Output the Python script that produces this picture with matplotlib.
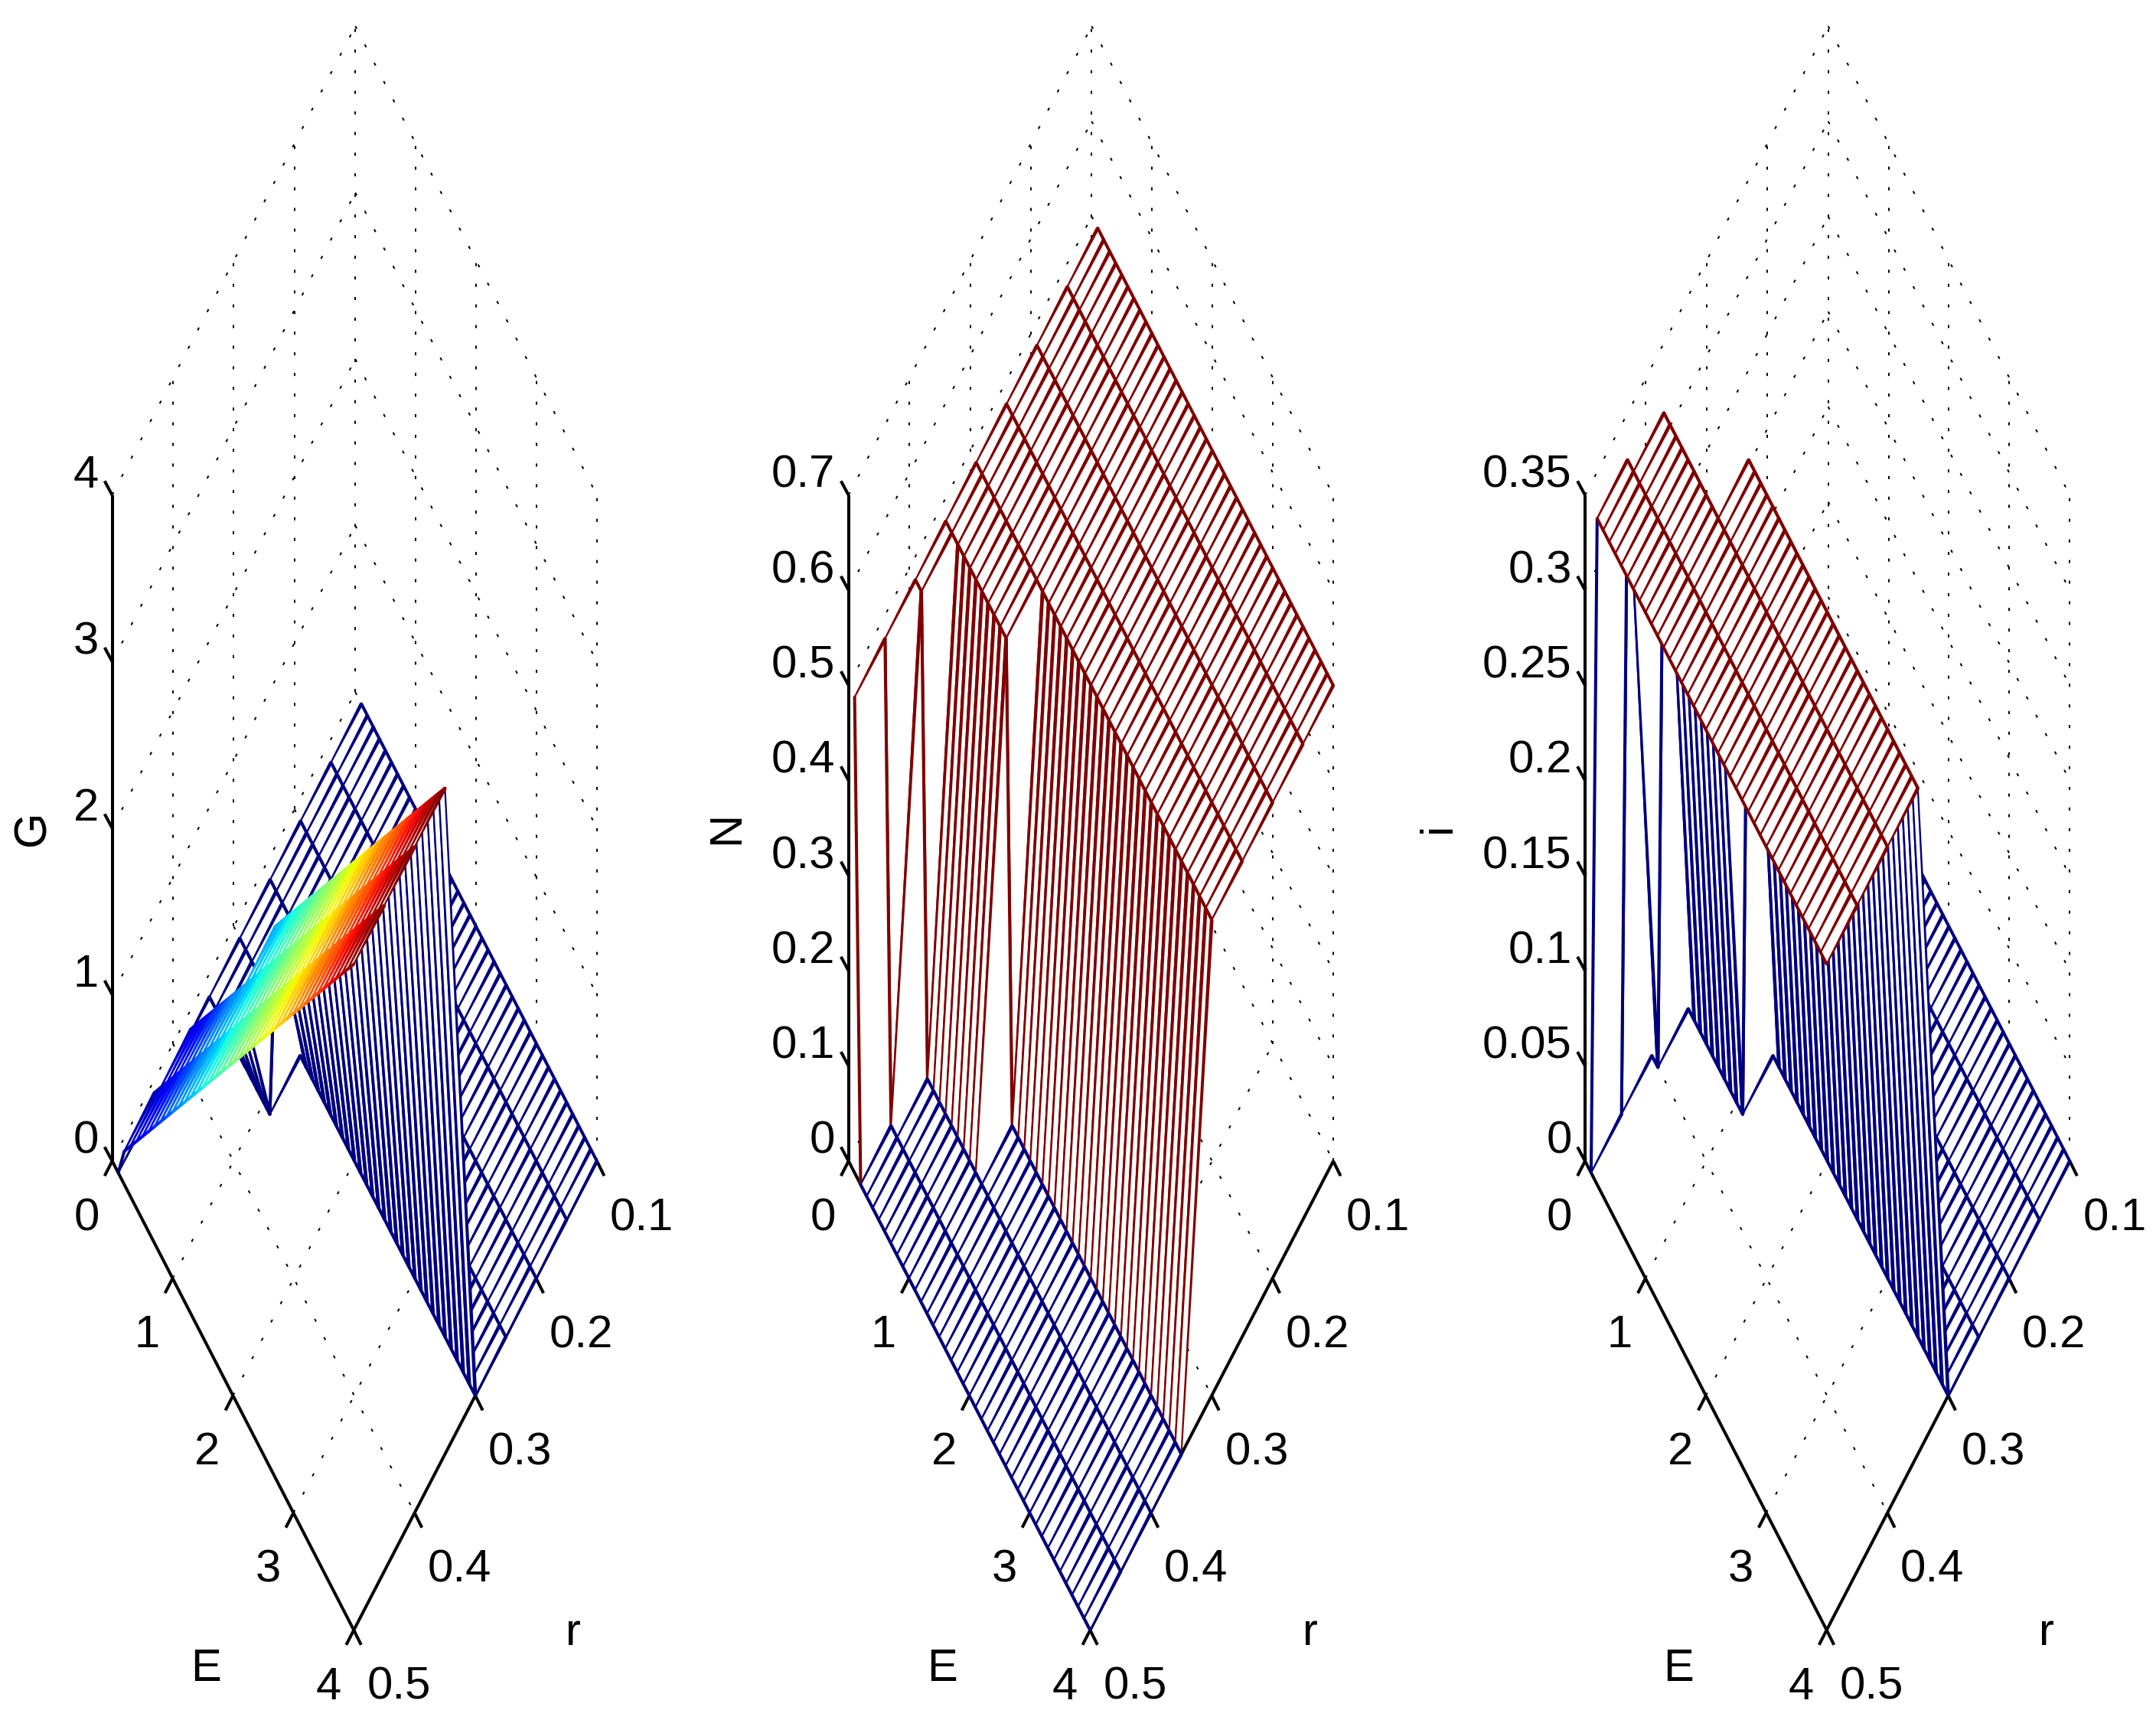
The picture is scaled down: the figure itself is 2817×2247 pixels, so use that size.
import numpy as np
import matplotlib
matplotlib.use('Agg')
import matplotlib.pyplot as plt

plt.rcParams['font.family'] = ['Liberation Sans', 'DejaVu Sans']
plt.rcParams['lines.scale_dashes'] = False

E_grid = [0.1, 0.2, 0.3, 0.4, 0.5, 0.6, 0.7, 0.8, 0.9,
          1.0, 1.1, 1.2, 1.3, 1.4, 1.5, 1.6, 1.7, 1.8, 1.9,
          2.0, 2.1, 2.2, 2.3, 2.4, 2.5, 2.6, 2.7, 2.8, 2.9,
          3.0, 3.1, 3.2, 3.3, 3.4, 3.5, 3.6, 3.7, 3.8, 3.9, 4.0]
r_grid = [0.10, 0.15, 0.20, 0.25, 0.30, 0.35, 0.40, 0.45, 0.50]

# height of the upper sheet at each E
G_level = [0.1, 0.2, 0.3, 0.4, 0.5, 0.6, 0.7, 0.8, 0.9,
           1.0, 1.1, 1.2, 1.3, 1.4, 1.5, 1.6, 1.7, 1.8, 1.9,
           2.0, 2.1, 2.2, 2.3, 2.4, 2.5, 2.6, 2.7, 2.8, 2.9,
           3.0, 3.1, 3.2, 3.3, 3.4, 3.5, 3.6, 3.7, 3.8, 3.9, 4.0]
N_level = [0.5] * 40
i_level = [0.35] * 40

# first E on the upper sheet for each r (G and i), inf = never
G_first_on = [np.inf, np.inf, np.inf, np.inf, np.inf, 1.2, 0.3, 0.2, 0.2]
i_first_on = [np.inf, np.inf, np.inf, np.inf, np.inf, 1.2, 0.3, 0.2, 0.2]
# last E on the upper sheet for each r (N)
N_last_on = [4.0, 4.0, 4.0, 4.0, 4.0, 1.1, 0.2, 0.1, 0.1]

E_ticks = [0, 1, 2, 3, 4]
r_ticks = [0.1, 0.2, 0.3, 0.4, 0.5]
r_ticklabels = ['0.1', '0.2', '0.3', '0.4', '0.5']
G_ticks = [0, 1, 2, 3, 4]
G_ticklabels = ['0', '1', '2', '3', '4']
N_ticks = [0, 0.1, 0.2, 0.3, 0.4, 0.5, 0.6, 0.7]
N_ticklabels = ['0', '0.1', '0.2', '0.3', '0.4', '0.5', '0.6', '0.7']
i_ticks = [0, 0.05, 0.1, 0.15, 0.2, 0.25, 0.3, 0.35]
i_ticklabels = ['0', '0.05', '0.1', '0.15', '0.2', '0.25', '0.3', '0.35']

# layout in the coordinates of a 1560 wide picture
W, H = 1560.0, 2247 * 1560.0 / 2817
FLOOR_Y = 840.0
LEFT_W = 174.8
RIGHT_W = 175.9
HALF_H = 339.3
Z_H = 481.8
FS = 43
MESH_LW = 2.9
AXIS_LW = 2.9
# edges along r get thinner towards the far vertex, as in the original render
TAPER_START = 2.6
TAPER_END = 1.2

jet = plt.get_cmap('jet', 64)


def project(x0, zmax, E, r, z):
    E = np.asarray(E, dtype=float)
    r = np.asarray(r, dtype=float)
    z = np.asarray(z, dtype=float)
    u = (0.5 - r) / 0.4
    v = E / 4.0
    x = x0 + LEFT_W * v + RIGHT_W * u
    y = FLOOR_Y + HALF_H * (v - u) - Z_H * z / zmax
    return x, y


def build_upper(level, first_on):
    Z = np.zeros((len(E_grid), len(r_grid)))
    for j in range(len(r_grid)):
        for i in range(len(E_grid)):
            if E_grid[i] >= first_on[j] - 1e-9:
                Z[i, j] = level[i]
    return Z


def build_lower(level, last_on):
    Z = np.zeros((len(E_grid), len(r_grid)))
    for j in range(len(r_grid)):
        for i in range(len(E_grid)):
            if E_grid[i] <= last_on[j] + 1e-9:
                Z[i, j] = level[i]
    return Z


def tapered_edge(ax, x1, y1, x2, y2, color):
    dx, dy = x2 - x1, y2 - y1
    n = np.hypot(dx, dy)
    px, py = -dy / n / 2, dx / n / 2
    xs = [x1 + px * TAPER_START, x2 + px * TAPER_END, x2 - px * TAPER_END, x1 - px * TAPER_START]
    ys = [y1 + py * TAPER_START, y2 + py * TAPER_END, y2 - py * TAPER_END, y1 - py * TAPER_START]
    ax.fill(xs, ys, color=color, lw=0, zorder=3)


def draw_panel(ax, x0, Z, zmax, zticks, zticklabels, zlabel, zlabel_x):
    dots = dict(color='k', lw=1.44, ls=(0, (2.9, 16.5)), dash_capstyle='butt', zorder=1)

    # grid, floor and the two back walls
    for E in E_ticks[1:-1]:
        ax.plot(*project(x0, zmax, [E, E], [0.5, 0.1], [0, 0]), **dots)
    for r in r_ticks[1:-1]:
        ax.plot(*project(x0, zmax, [0, 4], [r, r], [0, 0]), **dots)
    for r in r_ticks[:-1]:
        ax.plot(*project(x0, zmax, [0, 0], [r, r], [0, zmax]), **dots)
    for E in E_ticks[1:]:
        ax.plot(*project(x0, zmax, [E, E], [0.1, 0.1], [0, zmax]), **dots)
    for z in zticks:
        ax.plot(*project(x0, zmax, [0, 0], [0.5, 0.1], [z, z]), **dots)
        ax.plot(*project(x0, zmax, [0, 4], [0.1, 0.1], [z, z]), **dots)

    # axis lines and ticks
    line = dict(color='k', lw=AXIS_LW, solid_capstyle='butt', zorder=2)
    ax.plot(*project(x0, zmax, [0, 4], [0.5, 0.5], [0, 0]), **line)
    ax.plot(*project(x0, zmax, [4, 4], [0.1, 0.5], [0, 0]), **line)
    ax.plot(*project(x0, zmax, [0, 0], [0.5, 0.5], [0, zmax]), **line)
    for E in E_ticks:
        x, y = project(x0, zmax, E, 0.5, 0)
        ax.plot([x, x - 5.5], [y, y + 10.7], **line)
        ax.text(x - 18.5, y + 50, str(E), fontsize=FS, ha='center', va='baseline')
    for r, lab in zip(r_ticks, r_ticklabels):
        x, y = project(x0, zmax, 4, r, 0)
        ax.plot([x, x + 5.3], [y, y + 10.7], **line)
        ax.text(x + 9.4, y + 50, lab, fontsize=FS, ha='left', va='baseline')
    for z, lab in zip(zticks, zticklabels):
        x, y = project(x0, zmax, 0, 0.5, z)
        ax.plot([x, x - 5.5], [y, y - 10.2], **line)
        ax.text(x - 9.7, y - 5.5, lab, fontsize=FS, ha='right', va='baseline')
    xb, yb = project(x0, zmax, 4, 0.5, 0)
    ax.text(xb - 107, yb + 28, 'E', fontsize=FS, ha='center', va='center')
    ax.text(xb + 159, yb + 2, 'r', fontsize=FS, ha='center', va='center')
    ax.text(zlabel_x, 599, zlabel, fontsize=FS, rotation=90, ha='center', va='center')

    # mesh, back to front, white faces hide what is behind
    zc = Z.max()
    for i in range(len(E_grid) - 1):
        for j in range(len(r_grid) - 1):
            Es = [E_grid[i], E_grid[i + 1], E_grid[i + 1], E_grid[i]]
            rs = [r_grid[j], r_grid[j], r_grid[j + 1], r_grid[j + 1]]
            zs = [Z[i, j], Z[i + 1, j], Z[i + 1, j + 1], Z[i, j + 1]]
            x, y = project(x0, zmax, Es, rs, zs)
            ax.fill(x, y, color='white', lw=0, zorder=3)
            # edges along r
            tapered_edge(ax, x[0], y[0], x[3], y[3], jet(Z[i, j] / zc))
            tapered_edge(ax, x[1], y[1], x[2], y[2], jet(Z[i + 1, j] / zc))
            # edges along E
            for (a, b), c in [((0, 1), Z[i, j]), ((3, 2), Z[i, j + 1])]:
                ax.plot([x[a], x[b]], [y[a], y[b]], color=jet(c / zc), lw=MESH_LW,
                        solid_capstyle='round', zorder=3)


fig = plt.figure(figsize=(28.17, 22.47), dpi=100)
ax = fig.add_axes([0, 0, 1, 1])
ax.set_xlim(0, W)
ax.set_ylim(H, 0)
ax.axis('off')

draw_panel(ax, 81.2, build_upper(G_level, G_first_on), 4.0, G_ticks, G_ticklabels, 'G', 24)
draw_panel(ax, 614.0, build_lower(N_level, N_last_on), 0.7, N_ticks, N_ticklabels, 'N', 526)
draw_panel(ax, 1146.9, build_upper(i_level, i_first_on), 0.35, i_ticks, i_ticklabels, 'i', 1041)

fig.savefig('out.png', dpi=100)
plt.close(fig)
